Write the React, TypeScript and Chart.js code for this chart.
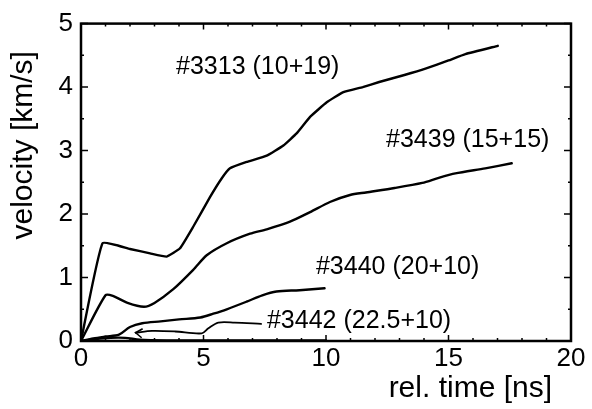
import React, { useEffect, useRef } from "react";
import { Chart, registerables } from "chart.js";

Chart.register(...registerables);

// ---- data (rel. time [ns], velocity [km/s]) ----
const S3313_X = [0, 0.88, 2.0, 2.82, 3.5, 4.04, 4.58, 5.27, 5.74, 6.08, 6.76, 7.58, 8.26, 8.8, 9.35, 10.03, 10.71, 11.5, 12.17, 13.2, 14.06, 15.0, 15.69, 17.01];
const S3313_Y = [0, 1.54, 1.45, 1.38, 1.33, 1.46, 1.8, 2.27, 2.56, 2.72, 2.82, 2.92, 3.08, 3.27, 3.53, 3.76, 3.92, 4.0, 4.08, 4.19, 4.29, 4.42, 4.52, 4.65];

const S3439_X = [0, 1.0, 1.3, 1.9, 2.57, 3.0, 3.78, 4.58, 5.13, 5.95, 6.9, 7.58, 8.53, 9.35, 10.16, 10.98, 11.63, 12.8, 13.93, 14.6, 15.28, 16.5, 17.58];
const S3439_Y = [0, 0.72, 0.71, 0.6, 0.54, 0.6, 0.82, 1.12, 1.35, 1.54, 1.69, 1.76, 1.88, 2.03, 2.19, 2.3, 2.34, 2.41, 2.49, 2.57, 2.64, 2.72, 2.8];

const S3440_X = [0, 0.5, 1.0, 1.55, 2.0, 2.5, 3.25, 4.0, 4.87, 5.4, 5.95, 6.76, 7.4, 7.98, 8.92, 9.94];
const S3440_Y = [0, 0.04, 0.07, 0.1, 0.22, 0.28, 0.31, 0.34, 0.37, 0.43, 0.5, 0.62, 0.72, 0.78, 0.8, 0.83];

const S3442_X = [0, 0.6, 1.2, 1.8, 2.4, 3.5, 6.0, 10.0];
const S3442_Y = [0, 0.03, 0.05, 0.05, 0.02, 0.01, 0.01, 0.01];

// leader line from the "#3442" label to the arrow
const LEADER_X = [7.35, 6.27, 5.6, 5.2, 4.93, 3.85, 2.9, 2.23];
const LEADER_Y = [0.27, 0.29, 0.29, 0.2, 0.12, 0.15, 0.16, 0.13];

// ---- annotations ----
const LABEL_TEXTS = ["#3313 (10+19)", "#3439 (15+15)", "#3440 (20+10)", "#3442 (22.5+10)"];
const LABEL_X = [3.88, 12.45, 9.59, 7.59];
const LABEL_Y = [4.32, 3.16, 1.16, 0.31];

// ---- axes ----
const X_MIN = 0, X_MAX = 20, X_STEP = 5, X_MINOR = 1;
const Y_MIN = 0, Y_MAX = 5, Y_STEP = 1, Y_MINOR = 0.5;
const X_TITLE = "rel. time [ns]";
const Y_TITLE = "velocity [km/s]";

const FONT = "'Liberation Sans', Arial, Helvetica, sans-serif";

const toPts = (xs: number[], ys: number[]) => xs.map((x, i) => ({ x, y: ys[i] }));

const decorPlugin = {
  id: "decor",
  afterDatasetsDraw(chart: any) {
    const { ctx, chartArea: a, scales } = chart;
    const xs = scales.x, ys = scales.y;
    ctx.save();
    ctx.strokeStyle = "#000";
    ctx.fillStyle = "#000";
    // inward ticks on all four sides
    ctx.lineWidth = 1.5;
    ctx.beginPath();
    for (let v = X_MIN; v <= X_MAX + 1e-9; v += X_MINOR) {
      const major = Math.abs(v / X_STEP - Math.round(v / X_STEP)) < 1e-6;
      const len = major ? 6 : 3;
      const px = xs.getPixelForValue(v);
      ctx.moveTo(px, a.bottom); ctx.lineTo(px, a.bottom - len);
      ctx.moveTo(px, a.top); ctx.lineTo(px, a.top + len);
    }
    for (let v = Y_MIN; v <= Y_MAX + 1e-9; v += Y_MINOR) {
      const major = Math.abs(v / Y_STEP - Math.round(v / Y_STEP)) < 1e-6;
      const len = major ? 7 : 3;
      const py = ys.getPixelForValue(v);
      ctx.moveTo(a.left, py); ctx.lineTo(a.left + len, py);
      ctx.moveTo(a.right, py); ctx.lineTo(a.right - len, py);
    }
    ctx.stroke();
    // frame
    ctx.lineWidth = 2.5;
    ctx.strokeRect(a.left, a.top, a.right - a.left, a.bottom - a.top);

    // arrow head at end of leader
    const n = LEADER_X.length - 1;
    const tx = xs.getPixelForValue(LEADER_X[n]);
    const ty = ys.getPixelForValue(LEADER_Y[n]);
    ctx.lineWidth = 1.6;
    ctx.beginPath();
    ctx.moveTo(tx + 7, ty - 4);
    ctx.lineTo(tx, ty);
    ctx.lineTo(tx + 6, ty + 5);
    ctx.stroke();

    // annotation labels
    ctx.font = `25px ${FONT}`;
    ctx.textAlign = "left";
    ctx.textBaseline = "middle";
    LABEL_TEXTS.forEach((t, i) => {
      ctx.fillText(t, xs.getPixelForValue(LABEL_X[i]), ys.getPixelForValue(LABEL_Y[i]));
    });

    // axis titles
    ctx.font = `30px ${FONT}`;
    ctx.textAlign = "right";
    ctx.textBaseline = "alphabetic";
    ctx.fillText(X_TITLE, a.right - 19, 397);
    ctx.save();
    ctx.translate(32, (a.top + a.bottom) / 2 - 37);
    ctx.rotate(-Math.PI / 2);
    ctx.textAlign = "center";
    ctx.fillText(Y_TITLE, 0, 0);
    ctx.restore();
    ctx.restore();
  },
};

export default function App() {
  const ref = useRef<HTMLCanvasElement | null>(null);
  useEffect(() => {
    document.body.style.margin = "0";
    const canvas = ref.current!;
    const lineDs = (label: string, xs: number[], ys: number[], w = 2.4, tension = 0.3) => ({
      label,
      data: toPts(xs, ys),
      borderColor: "#000",
      backgroundColor: "#000",
      borderWidth: w,
      pointRadius: 0,
      fill: false,
      tension,
      borderJoinStyle: "round" as const,
      borderCapStyle: "round" as const,
    });
    const chart = new Chart(canvas, {
      type: "line",
      data: {
        datasets: [
          lineDs("#3313", S3313_X, S3313_Y, 2.4, 0.12),
          lineDs("#3439", S3439_X, S3439_Y, 2.4, 0.25),
          lineDs("#3440", S3440_X, S3440_Y),
          lineDs("#3442", S3442_X, S3442_Y),
          lineDs("leader", LEADER_X, LEADER_Y, 1.8),
        ],
      },
      options: {
        responsive: false,
        animation: false,
        layout: { padding: { top: 23, right: 21, left: 0, bottom: 0 } },
        plugins: { legend: { display: false }, tooltip: { enabled: false } },
        scales: {
          x: {
            type: "linear",
            min: X_MIN,
            max: X_MAX,
            grid: { display: false, drawTicks: false },
            border: { display: false },
            ticks: { stepSize: X_STEP, color: "#000", font: { family: FONT, size: 26 }, padding: 2, maxRotation: 0 },
            afterFit: (s: any) => { s.height = 68; },
          },
          y: {
            type: "linear",
            min: Y_MIN,
            max: Y_MAX,
            grid: { display: false, drawTicks: false },
            border: { display: false },
            ticks: { stepSize: Y_STEP, color: "#000", font: { family: FONT, size: 26 }, padding: 8 },
            afterFit: (s: any) => { s.width = 81; },
          },
        },
      },
      plugins: [decorPlugin],
    });
    return () => chart.destroy();
  }, []);
  return (
    <div style={{ position: "fixed", left: 0, top: 0, width: 592, height: 409, background: "#fff" }}>
      <canvas ref={ref} width={592} height={409} />
    </div>
  );
}
